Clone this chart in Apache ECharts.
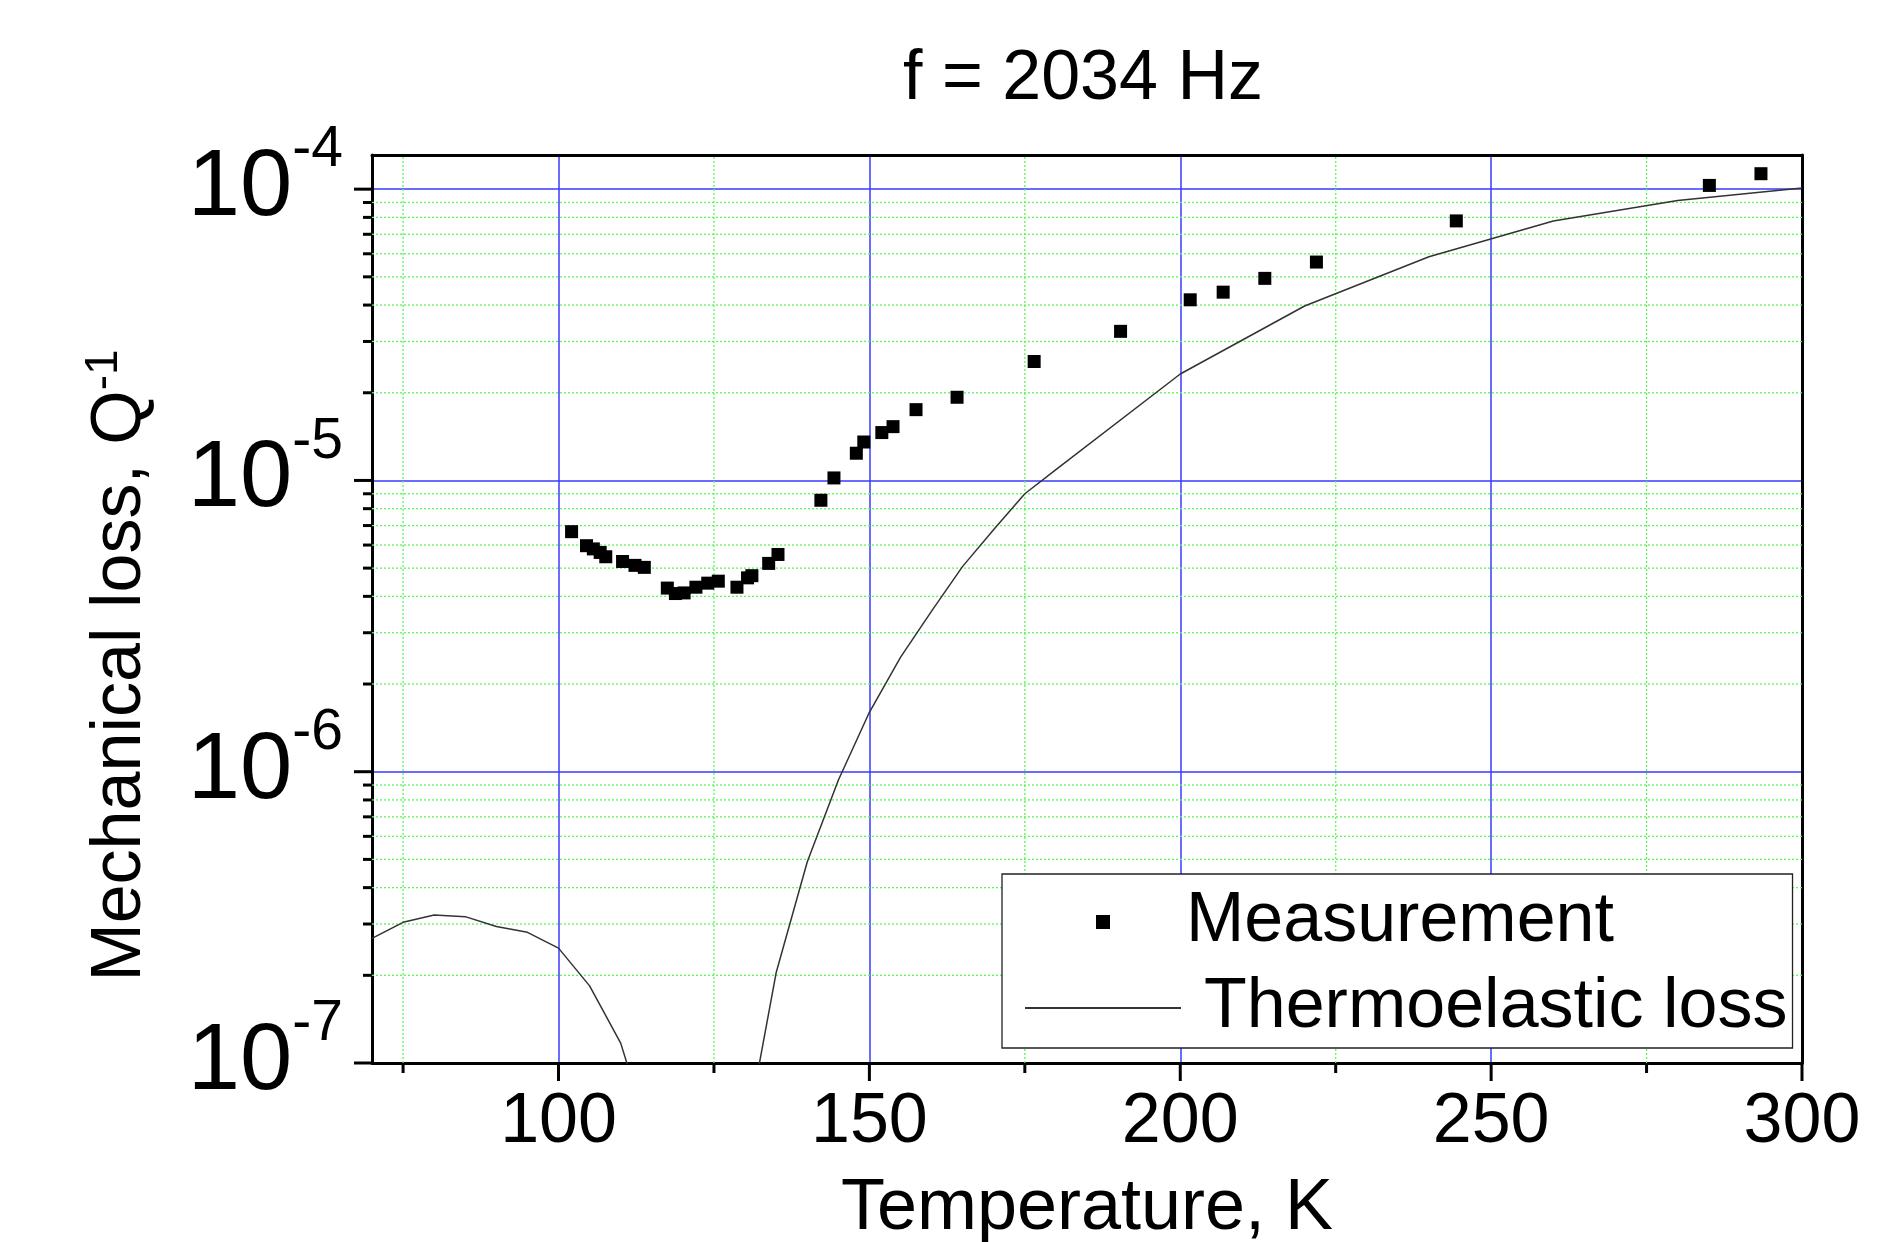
<!DOCTYPE html>
<html>
<head>
<meta charset="utf-8">
<script src="https://cdn.jsdelivr.net/npm/echarts@6/dist/echarts.min.js"></script>
<style>
  html, body { margin: 0; padding: 0; background: #fff; }
  #main { width: 1882px; height: 1242px; }
</style>
</head>
<body>
<div id="main"></div>
<script>
// measured loss points (temperature K, Q^-1)
var measTemp = [102.1, 104.5, 105.6, 106.7, 107.6, 110.3, 112.3, 113.8, 117.5, 118.8,
    120.2, 122.1, 124.0, 125.7, 128.7, 130.4, 131.1, 133.8, 135.3, 142.2,
    144.3, 147.9, 149.1, 152.0, 153.8, 157.5, 164.1, 176.5, 190.4, 201.6,
    206.9, 213.6, 221.9, 244.4, 285.1, 293.4];
var measLoss = [6.67e-6, 5.97e-6, 5.82e-6, 5.66e-6, 5.47e-6, 5.27e-6, 5.11e-6, 5.03e-6, 4.27e-6, 4.09e-6,
    4.11e-6, 4.30e-6, 4.44e-6, 4.51e-6, 4.30e-6, 4.63e-6, 4.71e-6, 5.19e-6, 5.57e-6, 8.55e-6,
    1.02e-5, 1.24e-5, 1.355e-5, 1.46e-5, 1.53e-5, 1.75e-5, 1.93e-5, 2.56e-5, 3.25e-5, 4.17e-5,
    4.43e-5, 4.94e-5, 5.62e-5, 7.78e-5, 1.03e-4, 1.13e-4];

// thermoelastic curve
var teTemp = [70, 75, 80, 85, 90, 95, 100, 105, 110, 115, 120, 125, 130, 135, 140, 145,
    150, 155, 160, 165, 170, 175, 180, 200, 220, 240, 260, 280, 300];
var teLoss = [2.68e-7, 3.04e-7, 3.22e-7, 3.18e-7, 2.94e-7, 2.81e-7, 2.48e-7, 1.84e-7, 1.17e-7, 5.3e-8,
    8e-9, 4e-9, 5.4e-8, 2.04e-7, 4.9e-7, 9.35e-7, 1.6e-6, 2.47e-6, 3.56e-6, 5.07e-6,
    6.79e-6, 9.0e-6, 1.09e-5, 2.32e-5, 3.97e-5, 5.86e-5, 7.78e-5, 9.15e-5, 1.01e-4];

// axis ranges and tick positions
var xMin = 70, xMax = 300;
var yMin = 1e-7, yMax = 1.31e-4;
var xMajorTicks = [100, 150, 200, 250, 300];
var xMinorTicks = [75, 125, 175, 225, 275];
var yMajorTicks = [1e-7, 1e-6, 1e-5, 1e-4];
var yMinorTicks = [2e-7, 3e-7, 4e-7, 5e-7, 6e-7, 7e-7, 8e-7, 9e-7,
    2e-6, 3e-6, 4e-6, 5e-6, 6e-6, 7e-6, 8e-6, 9e-6,
    2e-5, 3e-5, 4e-5, 5e-5, 6e-5, 7e-5, 8e-5, 9e-5];

var FONT = 'Liberation Sans';
var MAJOR_COLOR = '#3a3aff';
var MINOR_COLOR = '#5cf55c';

var chart = echarts.init(document.getElementById('main'));

// 刻度和次网格线
var xGuideData = [];
for (var i = 0; i < xMajorTicks.length; i++) xGuideData.push([xMajorTicks[i], yMin, 1]);
for (var i = 0; i < xMinorTicks.length; i++) xGuideData.push([xMinorTicks[i], yMin, 0]);
var yGuideData = [];
for (var i = 0; i < yMajorTicks.length; i++) yGuideData.push([xMin, yMajorTicks[i], 1]);
for (var i = 0; i < yMinorTicks.length; i++) yGuideData.push([xMin, yMinorTicks[i], 0]);

function renderXGuide(params, api) {
    var v = api.value(0);
    var major = api.value(2) === 1;
    var p0 = api.coord([v, yMin]);
    var p1 = api.coord([v, yMax]);
    var children = [{
        type: 'line',
        shape: {x1: p0[0], y1: p0[1], x2: p0[0], y2: p0[1] + (major ? 18 : 10)},
        style: {stroke: '#000', lineWidth: 3}
    }];
    if (!major) {
        children.push({
            type: 'line',
            shape: {x1: p0[0], y1: p0[1], x2: p1[0], y2: p1[1]},
            style: {stroke: MINOR_COLOR, lineWidth: 1.3, lineDash: [2, 2]}
        });
    }
    return {type: 'group', children: children};
}

function renderYGuide(params, api) {
    var v = api.value(1);
    var major = api.value(2) === 1;
    var p0 = api.coord([xMin, v]);
    var p1 = api.coord([xMax, v]);
    var children = [{
        type: 'line',
        shape: {x1: p0[0] - (major ? 18 : 9), y1: p0[1], x2: p0[0], y2: p0[1]},
        style: {stroke: '#000', lineWidth: 3}
    }];
    if (!major) {
        children.push({
            type: 'line',
            shape: {x1: p0[0], y1: p0[1], x2: p1[0], y2: p1[1]},
            style: {stroke: MINOR_COLOR, lineWidth: 1.3, lineDash: [2, 2]}
        });
    }
    return {type: 'group', children: children};
}

var measData = [];
for (var i = 0; i < measTemp.length; i++) measData.push([measTemp[i], measLoss[i]]);
var teData = [];
for (var i = 0; i < teTemp.length; i++) teData.push([teTemp[i], teLoss[i]]);

var frameAxis = {
    axisLine: {show: true, onZero: false, lineStyle: {color: '#000', width: 3}},
    axisTick: {show: false},
    axisLabel: {show: false},
    splitLine: {show: false}
};

var option = {
    animation: false,
    backgroundColor: '#fff',
    textStyle: {fontFamily: FONT, color: '#000'},
    title: {
        text: 'f = 2034 Hz',
        left: 1078,
        top: 40,
        textAlign: 'center',
        textStyle: {fontFamily: FONT, fontSize: 70, fontWeight: 'normal', color: '#000'}
    },
    grid: {
        left: 372, top: 155, right: 80, bottom: 179,
        containLabel: false,
        outerBoundsMode: 'none'
    },
    legend: {
        orient: 'vertical',
        left: 1002,
        top: 874,
        padding: [13, 5, 5, 22],
        itemWidth: 156,
        itemHeight: 14,
        itemGap: 16,
        borderColor: '#222',
        borderWidth: 1.3,
        backgroundColor: '#fff',
        data: [
            {name: 'Measurement', icon: 'path://M0 0H10V10H0Z', itemStyle: {color: '#000', opacity: 1}},
            {name: 'Thermoelastic loss', itemStyle: {opacity: 0}}
        ],
        formatter: function (name) {
            return name === 'Thermoelastic loss' ? '{t|' + name + '}' : '{m|' + name + '}';
        },
        textStyle: {
            fontFamily: FONT, fontSize: 70, lineHeight: 70, color: '#000',
            rich: {
                m: {fontFamily: FONT, fontSize: 70, lineHeight: 70, color: '#000'},
                t: {fontFamily: FONT, fontSize: 70, lineHeight: 70, color: '#000', padding: [0, 0, 0, 18]}
            }
        }
    },
    xAxis: [{
        type: 'value',
        min: xMin,
        max: xMax,
        name: 'Temperature, K',
        nameLocation: 'middle',
        nameGap: 110,
        nameTextStyle: {fontFamily: FONT, fontSize: 72, lineHeight: 72, color: '#000'},
        axisLine: {show: true, onZero: false, lineStyle: {color: '#000', width: 3}},
        axisTick: {show: false},
        axisLabel: {
            margin: 25,
            fontFamily: FONT, fontSize: 70, lineHeight: 70, color: '#000',
            showMinLabel: false,
            formatter: function (v) { return v % 50 === 0 ? String(v) : ''; }
        },
        splitLine: {show: true, showMinLine: false, showMaxLine: false,
            lineStyle: {color: MAJOR_COLOR, width: 1.5, type: 'solid'}}
    }, Object.assign({type: 'value', position: 'top', min: xMin, max: xMax}, frameAxis)],
    yAxis: [{
        type: 'log',
        logBase: 10,
        min: yMin,
        max: yMax,
        name: '{n|Mechanical loss, Q}{s|-1}',
        nameLocation: 'middle',
        nameGap: 251,
        nameTextStyle: {
            fontFamily: FONT, fontSize: 70, color: '#000',
            verticalAlign: 'middle',
            padding: [0, 113, 0, 0],
            rich: {
                n: {fontFamily: FONT, fontSize: 70, lineHeight: 80, color: '#000'},
                s: {fontFamily: FONT, fontSize: 46, lineHeight: 46, color: '#000', verticalAlign: 'top'}
            }
        },
        axisLine: {show: true, onZero: false, lineStyle: {color: '#000', width: 3}},
        axisTick: {show: false},
        axisLabel: {
            margin: 29,
            showMaxLabel: false,
            formatter: function (v) {
                var e = Math.log10(v);
                var r = Math.round(e);
                if (Math.abs(e - r) > 1e-6) return '';
                return '{b|10}{s|' + r + '}';
            },
            rich: {
                b: {fontFamily: FONT, fontSize: 94, lineHeight: 134, color: '#000'},
                s: {fontFamily: FONT, fontSize: 57, lineHeight: 57, color: '#000', verticalAlign: 'top'}
            }
        },
        splitLine: {show: true, showMinLine: false, showMaxLine: false,
            lineStyle: {color: MAJOR_COLOR, width: 1.5, type: 'solid'}}
    }, Object.assign({type: 'log', logBase: 10, position: 'right', min: yMin, max: yMax}, frameAxis)],
    series: [
        {
            name: 'xGuides',
            type: 'custom',
            clip: false,
            silent: true,
            z: 1,
            renderItem: renderXGuide,
            data: xGuideData
        },
        {
            name: 'yGuides',
            type: 'custom',
            clip: false,
            silent: true,
            z: 1,
            renderItem: renderYGuide,
            data: yGuideData
        },
        {
            name: 'Thermoelastic loss',
            type: 'line',
            data: teData,
            showSymbol: false,
            symbol: 'none',
            clip: true,
            z: 3,
            lineStyle: {color: '#333', width: 1.5},
            itemStyle: {color: '#333'}
        },
        {
            name: 'Measurement',
            type: 'scatter',
            data: measData,
            symbol: 'rect',
            symbolSize: 13,
            z: 4,
            itemStyle: {color: '#000', opacity: 1}
        }
    ]
};

chart.setOption(option);
</script>
</body>
</html>
